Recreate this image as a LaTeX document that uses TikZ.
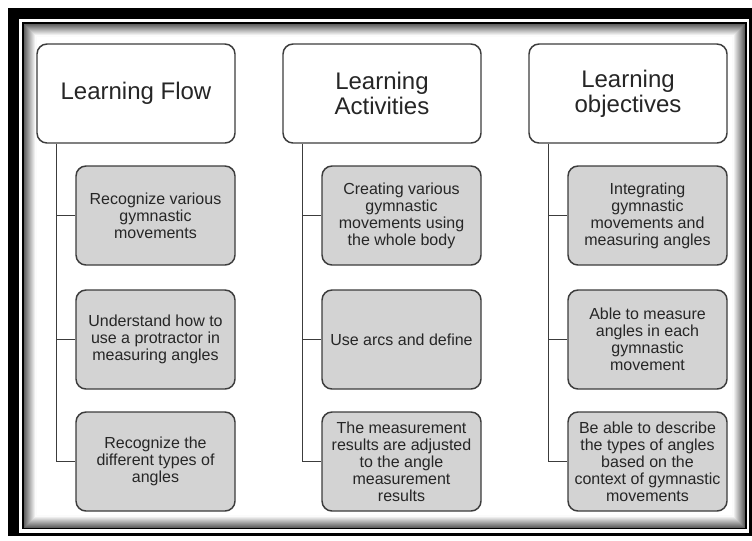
\documentclass[tikz,border=0pt]{standalone}
\usepackage{fontspec}
\setmainfont{Liberation Sans}
\usetikzlibrary{positioning}
\definecolor{boxline}{RGB}{60,60,60}
\definecolor{boxgrey}{RGB}{211,211,211}
\definecolor{inktext}{RGB}{38,38,38}

\begin{document}
\begin{tikzpicture}[
  x=0.75pt, y=-0.75pt,
  every node/.style={text=inktext, align=center, inner sep=0pt},
  headbox/.style={rectangle, rounded corners=7.5pt, draw=boxline, line width=1.1pt, fill=white,
    minimum width=148.5pt, minimum height=74.25pt, font=\fontsize{18}{18.75}\selectfont},
  itembox/.style={rectangle, rounded corners=7.5pt, draw=boxline, line width=1.1pt, fill=boxgrey,
    minimum width=119.25pt, minimum height=74.25pt, font=\fontsize{12}{12.75}\selectfont},
  link/.style={-, draw=boxline, line width=1.1pt},
]
\useasboundingbox (0,0) rectangle (752,540);

% ---- double frame with inset shadow ----
\fill[black] (8,8) rectangle (752,536);
\fill[white] (19,19) rectangle (749,532.5);
\fill[black] (22,22) rectangle (747,529);
\fill[white] (24,24) rectangle (745,527.5);
\foreach \i [evaluate=\i as \s using 62-5.5*\i] in {0,...,11}
  \draw[black!\s, line width=0.8pt] (25+\i,25+\i) rectangle (744-\i,527-\i);

% ---- column headers ----
\node[headbox] (lf) at (136,93.5) {Learning Flow};
\node[headbox] (la) at (382,93.5) {Learning\\Activities};
\node[headbox] (lo) at (628,93.5) {Learning\\objectives};

% ---- items under each header ----
\node[itembox] (lf1) at (155.5,215.5) {Recognize various\\gymnastic\\movements};
\node[itembox] (lf2) at (155.5,339.5) {Understand how to\\use a protractor in\\measuring angles};
\node[itembox] (lf3) at (155.5,461.5) {Recognize the\\different types of\\angles};

\node[itembox] (la1) at (401.5,215.5) {Creating various\\gymnastic\\movements using\\the whole body};
\node[itembox] (la2) at (401.5,339.5) {Use arcs and define};
\node[itembox] (la3) at (401.5,461.5) {The measurement\\results are adjusted\\to the angle\\measurement\\results};

\node[itembox] (lo1) at (647.5,215.5) {Integrating\\gymnastic\\movements and\\measuring angles};
\node[itembox] (lo2) at (647.5,339.5) {Able to measure\\angles in each\\gymnastic\\movement};
\node[itembox] (lo3) at (647.5,461.5) {Be able to describe\\the types of angles\\based on the\\context of gymnastic\\movements};

% ---- trunk lines: header down to its last item, ticks to the others ----
\coordinate (lft) at ([xshift=15pt]lf.south west);
\coordinate (lat) at ([xshift=15pt]la.south west);
\coordinate (lot) at ([xshift=15pt]lo.south west);

\draw[link] (lft) |- (lf3.west);
\draw[link] (lf1.west) -- (lf1.west -| lft);
\draw[link] (lf2.west) -- (lf2.west -| lft);

\draw[link] (lat) |- (la3.west);
\draw[link] (la1.west) -- (la1.west -| lat);
\draw[link] (la2.west) -- (la2.west -| lat);

\draw[link] (lot) |- (lo3.west);
\draw[link] (lo1.west) -- (lo1.west -| lot);
\draw[link] (lo2.west) -- (lo2.west -| lot);

\end{tikzpicture}
\end{document}
